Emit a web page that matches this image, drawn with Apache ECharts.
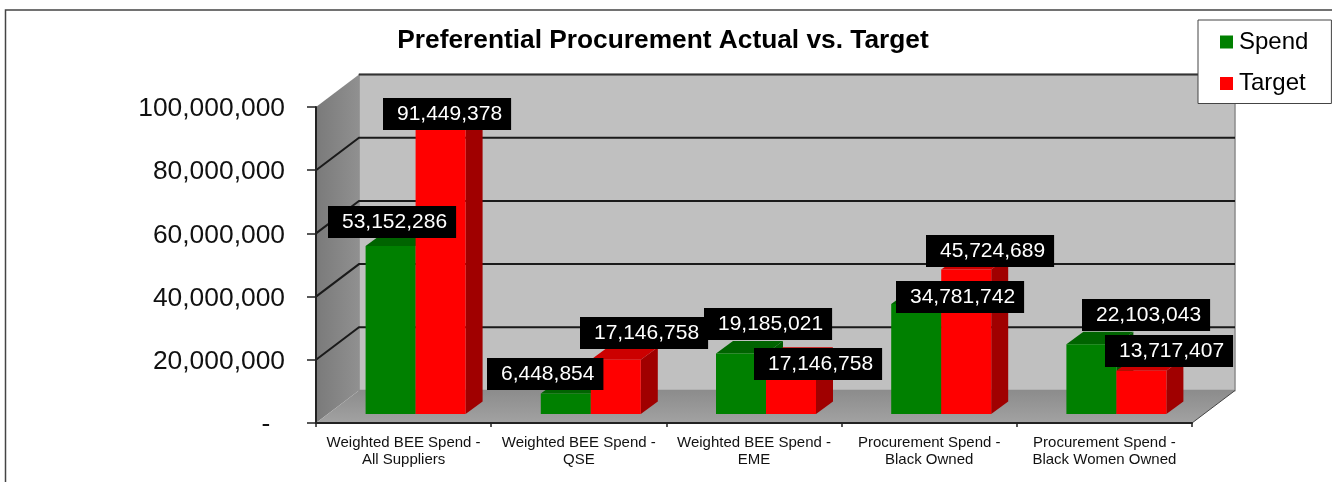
<!DOCTYPE html>
<html>
<head>
<meta charset="utf-8">
<style>
  html, body { margin: 0; padding: 0; background: #fff; }
  #main_container { width: 1332px; height: 482px; overflow: hidden; }
</style>
<script src="https://cdn.jsdelivr.net/npm/echarts@6/dist/echarts.min.js"></script>
</head>
<body>
<div id="main_container"></div>
<script>
var categories = [
  "Weighted BEE Spend -\nAll Suppliers",
  "Weighted BEE Spend -\nQSE",
  "Weighted BEE Spend -\nEME",
  "Procurement Spend -\nBlack Owned",
  "Procurement Spend -\nBlack Women Owned",
];
var spend = [53152286, 6448854, 19185021, 34781742, 22103043];
var target = [91449378, 17146758, 17146758, 45724689, 13717407];
var yTicks = [0, 20000000, 40000000, 60000000, 80000000, 100000000];

// where each black label box sits, relative to the band centre at the value height
var spendLabelNudge = [[-75.6, -33], [-91.8, -28.6], [-50, -38.4], [-33.2, -16.1], [-22.4, -38.2]];
var targetLabelNudge = [[-20.6, -20], [1.2, -35.8], [0, -4.8], [-3.2, -27.5], [0.6, -28.7]];

// 3d look
var WALL_DX = 43, WALL_DY = 32.5; // depth of the whole box
var BAR_SHIFT_X = 12, BAR_SHIFT_Y = 9; // bars stand a little behind the front edge
var BAR_DX = 17, BAR_DY = 12.5; // depth of one bar
var BAR_RATIO = 50 / 175.2;

function toPairs(values) {
  return values.map(function (v, i) {
    return [i, v];
  });
}

function renderWalls(params, api) {
  var grid = params.coordSys;
  var x0 = grid.x, x1 = grid.x + grid.width;
  var y0 = grid.y, y1 = grid.y + grid.height;
  var value = api.value(1);
  var y = api.coord([0, value])[1];
  var children = [];

  if (value === 0) {
    // back wall
    children.push({
      type: "rect",
      z2: 1,
      shape: { x: x0 + WALL_DX, y: y0 - WALL_DY, width: grid.width, height: grid.height },
      style: { fill: "#c0c0c0", stroke: "#8c8c8c", lineWidth: 1.5 },
    });
    // left wall
    children.push({
      type: "polygon",
      z2: 2,
      shape: { points: [[x0, y0], [x0 + WALL_DX, y0 - WALL_DY], [x0 + WALL_DX, y1 - WALL_DY], [x0, y1]] },
      style: {
        fill: new echarts.graphic.LinearGradient(0, 0, 1, 0, [
          { offset: 0, color: "#7a7a7a" },
          { offset: 1, color: "#909090" },
        ]),
      },
    });
    // floor
    children.push({
      type: "polygon",
      z2: 2,
      shape: { points: [[x0, y1], [x0 + WALL_DX, y1 - WALL_DY], [x1 + WALL_DX, y1 - WALL_DY], [x1, y1]] },
      style: {
        fill: new echarts.graphic.LinearGradient(0, 0, 0, 1, [
          { offset: 0, color: "#8c8c8c" },
          { offset: 1, color: "#a2a2a2" },
        ]),
      },
    });
    children.push({
      type: "line",
      z2: 3,
      shape: { x1: x1, y1: y1, x2: x1 + WALL_DX, y2: y1 - WALL_DY },
      style: { stroke: "#444", lineWidth: 1 },
    });
  } else if (value === yTicks[yTicks.length - 1]) {
    // top edge of the back wall only, the slanted edge stays without a line
    children.push({
      type: "line",
      z2: 3,
      shape: { x1: x0 + WALL_DX, y1: y - WALL_DY, x2: x1 + WALL_DX, y2: y - WALL_DY },
      style: { stroke: "#333", lineWidth: 2 },
    });
  } else {
    // grid line, across the left wall and the back wall
    children.push({
      type: "polyline",
      z2: 3,
      shape: { points: [[x0, y], [x0 + WALL_DX, y - WALL_DY], [x1 + WALL_DX, y - WALL_DY]] },
      style: { fill: null, stroke: "#1a1a1a", lineWidth: 2 },
    });
  }
  return { type: "group", children: children };
}

function makeBarRenderer(side, colors, nudges) {
  return function (params, api) {
    var i = api.value(0);
    var value = api.value(1);
    var top = api.coord([i, value]);
    var bottom = api.coord([i, 0]);
    var barW = api.size([1, 0])[0] * BAR_RATIO;
    var left = top[0] + BAR_SHIFT_X + (side < 0 ? -barW : 0);
    var right = left + barW;
    var yTop = top[1] - BAR_SHIFT_Y;
    var yBottom = bottom[1] - BAR_SHIFT_Y;
    var nudge = nudges[i];
    return {
      type: "group",
      children: [
        {
          type: "polygon",
          z2: 10 + side,
          shape: { points: [[right, yTop], [right + BAR_DX, yTop - BAR_DY], [right + BAR_DX, yBottom - BAR_DY], [right, yBottom]] },
          style: { fill: colors.side },
        },
        {
          type: "polygon",
          z2: 10 + side,
          shape: { points: [[left, yTop], [left + BAR_DX, yTop - BAR_DY], [right + BAR_DX, yTop - BAR_DY], [right, yTop]] },
          style: { fill: colors.top },
        },
        {
          type: "rect",
          z2: 10 + side,
          shape: { x: left, y: yTop, width: barW, height: yBottom - yTop },
          style: { fill: colors.front },
        },
        {
          type: "text",
          z2: 50,
          style: {
            text: value.toLocaleString("en-US"),
            x: top[0] + nudge[0],
            y: top[1] + nudge[1],
            font: '21px "Liberation Sans", Arial, sans-serif',
            fill: "#fff",
            align: "left",
            verticalAlign: "middle",
            backgroundColor: "#000",
            padding: [6, 9, 2, 14],
            lineHeight: 24,
          },
        },
      ],
    };
  };
}

var myChart = echarts.init(document.getElementById("main_container"));
myChart.setOption({
  animation: false,
  textStyle: { fontFamily: '"Liberation Sans", Arial, sans-serif' },
  title: {
    text: "Preferential Procurement Actual vs. Target",
    left: 663,
    textAlign: "center",
    top: 28,
    padding: 0,
    textStyle: { fontSize: 26.3, fontWeight: "bold", color: "#000", fontFamily: '"Liberation Sans", Arial, sans-serif' },
  },
  legend: {
    data: [
      { name: "Spend", icon: "rect", itemStyle: { color: "#008000" } },
      { name: "Target", icon: "rect", itemStyle: { color: "#ff0000" } },
    ],
    orient: "vertical",
    left: 1198,
    top: 20,
    z: 20,
    padding: [10, 23, 8, 22],
    itemWidth: 13,
    itemHeight: 13,
    itemGap: 17.5,
    backgroundColor: "#fff",
    borderColor: "#444",
    borderWidth: 1,
    textStyle: { fontSize: 24, color: "#000", padding: [2, 0, 0, 1], fontFamily: '"Liberation Sans", Arial, sans-serif' },
  },
  graphic: [
    {
      // outer frame, runs off the page on the right and at the bottom
      type: "rect",
      silent: true,
      shape: { x: 5.5, y: 10, width: 1400, height: 600 },
      style: { fill: null, stroke: "#444", lineWidth: 1.5 },
    },
  ],
  grid: { left: 316, right: 140, top: 107, bottom: 59 },
  xAxis: {
    type: "category",
    data: categories,
    z: 5,
    axisLine: { lineStyle: { color: "#222", width: 2 } },
    axisTick: { show: true, length: 4, lineStyle: { color: "#222", width: 1.5 } },
    axisLabel: {
      interval: 0,
      fontSize: 15,
      lineHeight: 17,
      margin: 11,
      color: "#111",
      fontFamily: '"Liberation Sans", Arial, sans-serif',
    },
  },
  yAxis: {
    type: "value",
    min: 0,
    max: 100000000,
    interval: 20000000,
    z: 5,
    axisLine: { show: true, lineStyle: { color: "#222", width: 2 } },
    axisTick: { show: true, length: 9, lineStyle: { color: "#222", width: 1.5 } },
    splitLine: { show: false },
    axisLabel: {
      fontSize: 26.4,
      margin: 31,
      color: "#111",
      // small line box below the tick puts the digits 2px lower, as in the original
      verticalAlign: "top",
      lineHeight: 4,
      fontFamily: '"Liberation Sans", Arial, sans-serif',
      formatter: function (v) {
        return v === 0 ? "-\u00a0\u00a0" : v.toLocaleString("en-US");
      },
    },
  },
  series: [
    {
      name: "walls",
      type: "custom",
      z: 1,
      silent: true,
      data: toPairs(yTicks),
      encode: { x: 0, y: 1 },
      renderItem: function (params, api) {
        return renderWalls(params, api);
      },
    },
    {
      name: "Spend",
      type: "custom",
      z: 2,
      data: toPairs(spend),
      encode: { x: 0, y: 1 },
      renderItem: makeBarRenderer(-1, { front: "#008000", top: "#006400", side: "#005a00" }, spendLabelNudge),
    },
    {
      name: "Target",
      type: "custom",
      z: 2,
      data: toPairs(target),
      encode: { x: 0, y: 1 },
      renderItem: makeBarRenderer(1, { front: "#ff0000", top: "#cc0000", side: "#a00000" }, targetLabelNudge),
    },
  ],
});
</script>
</body>
</html>
